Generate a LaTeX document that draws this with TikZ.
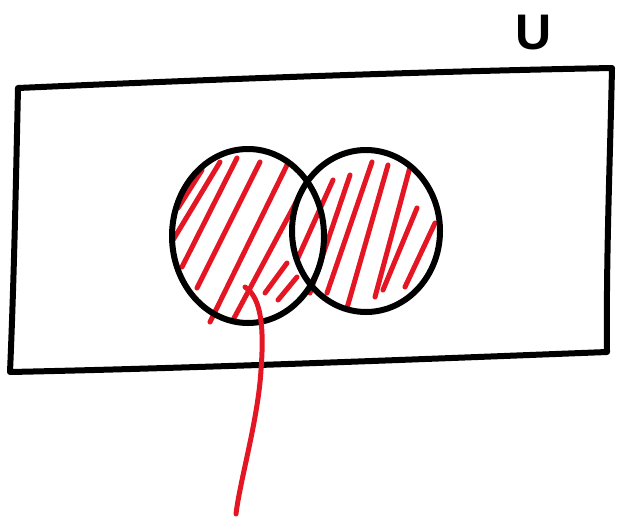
\documentclass[tikz,border=0pt]{standalone}
\usepackage{fontspec}
\setsansfont{Liberation Sans}
\usetikzlibrary{shapes.geometric}
\definecolor{penred}{RGB}{228,22,36}
\begin{document}
\begin{tikzpicture}[x=1pt,y=-1pt,
  ink/.style={line width=6pt,line cap=round,line join=round,black},
  hatch/.style={line width=5pt,line cap=round,penred}]
\useasboundingbox (0,0) rectangle (617,522);
% universe rectangle
\draw[ink] (18,88) .. controls (200,80) and (400,72) .. (612,68)
  .. controls (610,160) and (606,260) .. (607,352)
  .. controls (400,360) and (200,368) .. (10,372)
  .. controls (14,280) and (16,180) .. (18,88) -- cycle;
\node[font=\sffamily\bfseries\fontsize{50}{50}\selectfont,inner sep=0pt] (u) at (534,33) {U};
% hatching, left circle
\draw[hatch] (202,170) -- (178,208);
\draw[hatch] (220,162) -- (173,240);
\draw[hatch] (237,158) -- (182,267);
\draw[hatch] (260,162) -- (197,288);
\draw[hatch] (288,163) -- (210,322);
\draw[hatch] (309,178) -- (233,320);
\draw[hatch] (287,263) -- (265,293);
\draw[hatch] (297,277) -- (278,300);
% hatching, right circle
\draw[hatch] (333,180) -- (297,260);
\draw[hatch] (350,175) -- (310,293);
\draw[hatch] (372,162) -- (327,293);
\draw[hatch] (388,165) -- (347,308);
\draw[hatch] (410,167) -- (375,297);
\draw[hatch] (417,208) -- (383,290);
\draw[hatch] (435,223) -- (405,287);
% circles
\node[ink,draw,ellipse,minimum width=152pt,minimum height=174pt,inner sep=0pt] (a) at (248,236) {};
\node[ink,draw,ellipse,minimum width=148pt,minimum height=162pt,inner sep=0pt] (b) at (366,231) {};
% pointer line
\coordinate (p0) at (245,287);
\coordinate (p1) at (236,514);
\draw[hatch] (p0) .. controls (262,298) and (264,330) .. (261,370)
  .. controls (258,420) and (240,480) .. (p1);
\end{tikzpicture}
\end{document}
